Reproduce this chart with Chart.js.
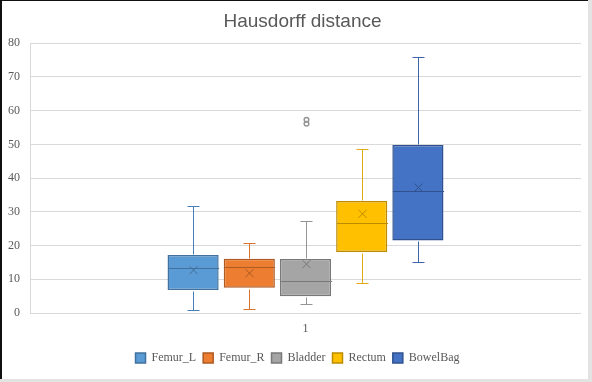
<!DOCTYPE html>
<html><head><meta charset="utf-8">
<script src="https://cdn.jsdelivr.net/npm/chart.js@4/dist/chart.umd.min.js"></script>
<style>
html,body{margin:0;padding:0;background:#fff;}
#wrap{position:relative;width:592px;height:382px;overflow:hidden;}
canvas{display:block;}
.f{position:absolute;pointer-events:none;}
</style></head><body>
<div id="wrap"><canvas id="c" width="592" height="382"></canvas>
<div class="f" style="left:0;top:0;width:2px;height:382px;background:#111"></div>
<div class="f" style="left:0;top:0;width:592px;height:1px;background:#111"></div>
<div class="f" style="left:588px;top:0;width:4px;height:382px;background:#e3e3e3"></div>
<div class="f" style="left:0;top:379px;width:592px;height:3px;background:#e3e3e3"></div>
</div>
<script>
const categories = ['1'];
const seriesNames = ['Femur_L', 'Femur_R', 'Bladder', 'Rectum', 'BowelBag'];
const minValues = [0.9, 1.2, 2.7, 8.9, 15.2];
const q1Values = [6.8, 7.5, 5.0, 18.1, 21.5];
const medianValues = [13.4, 13.7, 9.6, 26.7, 36.1];
const meanValues = [12.7, 11.8, 14.5, 29.4, 37.2];
const q3Values = [17.2, 16.1, 16.0, 33.2, 49.8];
const maxValues = [31.7, 20.7, 27.3, 48.6, 75.9];
const outlierValues = [[], [], [57.3, 56.1], [], []];
const yTickMin = 0, yTickMax = 80, yTickStep = 10;

const fillColors = ['#5B9BD5', '#ED7D31', '#A5A5A5', '#FFC000', '#4472C4'];
const borderColors = ['#41719C', '#AE5A21', '#787878', '#BC8C00', '#2F528F'];
const whiskerColors = ['#4A7EB8', '#D9732D', '#959595', '#E0AA10', '#4064A8'];

const datasets = seriesNames.map((name, i) => ({
  label: name,
  data: categories.map(() => [q1Values[i], q3Values[i]]),
  backgroundColor: fillColors[i],
  borderColor: borderColors[i],
  borderWidth: 1.5,
  borderSkipped: false
}));

const boxExtras = {
  id: 'boxExtras',
  afterLayout(chart) {
    const t = chart.titleBlock;
    if (t) { t.left += 11; t.right += 11; }
    const l = chart.legend;
    if (l) { l.left += 6; l.right += 6; }
  },
  afterDatasetsDraw(chart) {
    const ctx = chart.ctx, y = chart.scales.y;
    chart.data.datasets.forEach((ds, i) => {
      const meta = chart.getDatasetMeta(i);
      if (meta.hidden) return;
      meta.data.forEach((bar) => {
        const x = Math.round(bar.x) + 0.5, w = bar.width;
        const py = v => Math.round(y.getPixelForValue(v)) + 0.5;
        const yMax = py(maxValues[i]), yQ3 = py(q3Values[i]), yQ1 = py(q1Values[i]), yMin = py(minValues[i]);
        const yMed = py(medianValues[i]), yMean = y.getPixelForValue(meanValues[i]);
        ctx.save();
        ctx.lineWidth = 1;
        ctx.strokeStyle = whiskerColors[i];
        ctx.beginPath();
        ctx.moveTo(x, yMax); ctx.lineTo(x, yQ3 - 1);
        ctx.moveTo(x, yQ1 + 1); ctx.lineTo(x, yMin);
        ctx.moveTo(x - 6, yMax); ctx.lineTo(x + 6, yMax);
        ctx.moveTo(x - 6, yMin); ctx.lineTo(x + 6, yMin);
        ctx.stroke();
        ctx.strokeStyle = borderColors[i];
        ctx.lineWidth = 1.2;
        ctx.beginPath();
        ctx.moveTo(x - w / 2, yMed); ctx.lineTo(x + w / 2, yMed);
        ctx.stroke();
        ctx.lineWidth = 1;
        ctx.beginPath();
        ctx.moveTo(x - 4, yMean - 4); ctx.lineTo(x + 4, yMean + 4);
        ctx.moveTo(x + 4, yMean - 4); ctx.lineTo(x - 4, yMean + 4);
        ctx.stroke();
        ctx.strokeStyle = whiskerColors[i];
        ctx.lineWidth = 1.5;
        outlierValues[i].forEach(v => {
          ctx.beginPath();
          ctx.arc(x, y.getPixelForValue(v), 2.3, 0, Math.PI * 2);
          ctx.stroke();
        });
        ctx.restore();
      });
    });
  }
};

new Chart(document.getElementById('c'), {
  type: 'bar',
  data: { labels: categories, datasets },
  plugins: [boxExtras],
  options: {
    responsive: false,
    animation: false,
    layout: { padding: { left: 2, right: 11, top: 0, bottom: 8 } },
    categoryPercentage: 0.51,
    barPercentage: 0.91,
    plugins: {
      tooltip: { enabled: false },
      title: {
        display: true,
        text: 'Hausdorff distance',
        color: '#595959',
        font: { family: "'Liberation Sans', Arial, sans-serif", size: 19, weight: 'normal' },
        padding: { top: 10, bottom: 10.4 }
      },
      legend: {
        position: 'bottom',
        labels: {
          boxWidth: 10, boxHeight: 10, padding: 7,
          color: '#595959',
          font: { family: "'Liberation Serif', 'Times New Roman', serif", size: 12 }
        }
      }
    },
    scales: {
      x: {
        grid: { display: false, drawTicks: false },
        border: { display: false },
        ticks: { color: '#595959', padding: 9, font: { family: "'Liberation Serif', serif", size: 12 } },
        afterFit(s) { s.height = 32; }
      },
      y: {
        min: yTickMin, max: yTickMax,
        ticks: { stepSize: yTickStep, color: '#595959', padding: 10, font: { family: "'Liberation Serif', serif", size: 12 } },
        grid: { color: '#d9d9d9', drawTicks: false },
        border: { display: true, color: '#d9d9d9' },
        afterFit(s) { s.width = 28; }
      }
    }
  }
});
</script>
</body></html>
